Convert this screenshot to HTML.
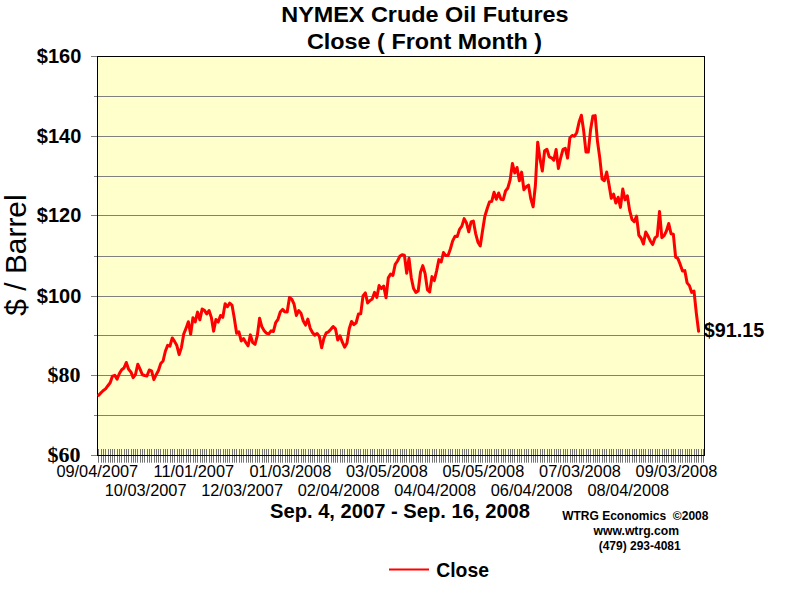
<!DOCTYPE html>
<html><head><meta charset="utf-8"><title>NYMEX Crude Oil Futures</title>
<style>
html,body{margin:0;padding:0;background:#fff;}
body{width:800px;height:600px;overflow:hidden;}
svg{display:block;}
text{fill:#000;}
.ab{font-family:"Liberation Sans",sans-serif;font-weight:bold;}
.ar{font-family:"Liberation Sans",sans-serif;}
.tb{font-family:"Liberation Serif",serif;font-weight:bold;}
</style></head><body>
<svg width="800" height="600" viewBox="0 0 800 600">
<rect x="0" y="0" width="800" height="600" fill="#ffffff"/>
<rect x="97" y="56" width="608" height="400" fill="#ffffcc"/>
<line x1="94" x2="705" y1="96.5" y2="96.5" stroke="#808080"/><line x1="94" x2="705" y1="136.5" y2="136.5" stroke="#808080"/><line x1="94" x2="705" y1="176.5" y2="176.5" stroke="#808080"/><line x1="94" x2="705" y1="215.5" y2="215.5" stroke="#808080"/><line x1="94" x2="705" y1="256.5" y2="256.5" stroke="#808080"/><line x1="94" x2="705" y1="296.5" y2="296.5" stroke="#808080"/><line x1="94" x2="705" y1="335.5" y2="335.5" stroke="#808080"/><line x1="94" x2="705" y1="375.5" y2="375.5" stroke="#808080"/><line x1="94" x2="705" y1="415.5" y2="415.5" stroke="#808080"/>
<line x1="91" x2="97" y1="56.5" y2="56.5" stroke="#808080"/><line x1="91" x2="97" y1="136.5" y2="136.5" stroke="#808080"/><line x1="91" x2="97" y1="215.5" y2="215.5" stroke="#808080"/><line x1="91" x2="97" y1="296.5" y2="296.5" stroke="#808080"/><line x1="91" x2="97" y1="375.5" y2="375.5" stroke="#808080"/><line x1="91" x2="97" y1="455.5" y2="455.5" stroke="#808080"/>
<line x1="98.5" x2="98.5" y1="449" y2="462.7" stroke="#747474"/><line x1="101.5" x2="101.5" y1="449" y2="462.7" stroke="#747474"/><line x1="103.5" x2="103.5" y1="449" y2="462.7" stroke="#747474"/><line x1="105.5" x2="105.5" y1="449" y2="462.7" stroke="#747474"/><line x1="108.5" x2="108.5" y1="449" y2="462.7" stroke="#747474"/><line x1="110.5" x2="110.5" y1="449" y2="462.7" stroke="#747474"/><line x1="112.5" x2="112.5" y1="449" y2="462.7" stroke="#747474"/><line x1="114.5" x2="114.5" y1="449" y2="462.7" stroke="#747474"/><line x1="117.5" x2="117.5" y1="449" y2="462.7" stroke="#747474"/><line x1="119.5" x2="119.5" y1="449" y2="462.7" stroke="#747474"/><line x1="121.5" x2="121.5" y1="449" y2="462.7" stroke="#747474"/><line x1="124.5" x2="124.5" y1="449" y2="462.7" stroke="#747474"/><line x1="126.5" x2="126.5" y1="449" y2="462.7" stroke="#747474"/><line x1="128.5" x2="128.5" y1="449" y2="462.7" stroke="#747474"/><line x1="131.5" x2="131.5" y1="449" y2="462.7" stroke="#747474"/><line x1="133.5" x2="133.5" y1="449" y2="462.7" stroke="#747474"/><line x1="135.5" x2="135.5" y1="449" y2="462.7" stroke="#747474"/><line x1="137.5" x2="137.5" y1="449" y2="462.7" stroke="#747474"/><line x1="140.5" x2="140.5" y1="449" y2="462.7" stroke="#747474"/><line x1="142.5" x2="142.5" y1="449" y2="462.7" stroke="#747474"/><line x1="144.5" x2="144.5" y1="449" y2="462.7" stroke="#747474"/><line x1="147.5" x2="147.5" y1="449" y2="462.7" stroke="#747474"/><line x1="149.5" x2="149.5" y1="449" y2="462.7" stroke="#747474"/><line x1="151.5" x2="151.5" y1="449" y2="462.7" stroke="#747474"/><line x1="154.5" x2="154.5" y1="449" y2="462.7" stroke="#747474"/><line x1="156.5" x2="156.5" y1="449" y2="462.7" stroke="#747474"/><line x1="158.5" x2="158.5" y1="449" y2="462.7" stroke="#747474"/><line x1="160.5" x2="160.5" y1="449" y2="462.7" stroke="#747474"/><line x1="163.5" x2="163.5" y1="449" y2="462.7" stroke="#747474"/><line x1="165.5" x2="165.5" y1="449" y2="462.7" stroke="#747474"/><line x1="167.5" x2="167.5" y1="449" y2="462.7" stroke="#747474"/><line x1="170.5" x2="170.5" y1="449" y2="462.7" stroke="#747474"/><line x1="172.5" x2="172.5" y1="449" y2="462.7" stroke="#747474"/><line x1="174.5" x2="174.5" y1="449" y2="462.7" stroke="#747474"/><line x1="177.5" x2="177.5" y1="449" y2="462.7" stroke="#747474"/><line x1="179.5" x2="179.5" y1="449" y2="462.7" stroke="#747474"/><line x1="181.5" x2="181.5" y1="449" y2="462.7" stroke="#747474"/><line x1="183.5" x2="183.5" y1="449" y2="462.7" stroke="#747474"/><line x1="186.5" x2="186.5" y1="449" y2="462.7" stroke="#747474"/><line x1="188.5" x2="188.5" y1="449" y2="462.7" stroke="#747474"/><line x1="190.5" x2="190.5" y1="449" y2="462.7" stroke="#747474"/><line x1="193.5" x2="193.5" y1="449" y2="462.7" stroke="#747474"/><line x1="195.5" x2="195.5" y1="449" y2="462.7" stroke="#747474"/><line x1="197.5" x2="197.5" y1="449" y2="462.7" stroke="#747474"/><line x1="200.5" x2="200.5" y1="449" y2="462.7" stroke="#747474"/><line x1="202.5" x2="202.5" y1="449" y2="462.7" stroke="#747474"/><line x1="204.5" x2="204.5" y1="449" y2="462.7" stroke="#747474"/><line x1="206.5" x2="206.5" y1="449" y2="462.7" stroke="#747474"/><line x1="209.5" x2="209.5" y1="449" y2="462.7" stroke="#747474"/><line x1="211.5" x2="211.5" y1="449" y2="462.7" stroke="#747474"/><line x1="213.5" x2="213.5" y1="449" y2="462.7" stroke="#747474"/><line x1="216.5" x2="216.5" y1="449" y2="462.7" stroke="#747474"/><line x1="218.5" x2="218.5" y1="449" y2="462.7" stroke="#747474"/><line x1="220.5" x2="220.5" y1="449" y2="462.7" stroke="#747474"/><line x1="223.5" x2="223.5" y1="449" y2="462.7" stroke="#747474"/><line x1="225.5" x2="225.5" y1="449" y2="462.7" stroke="#747474"/><line x1="227.5" x2="227.5" y1="449" y2="462.7" stroke="#747474"/><line x1="229.5" x2="229.5" y1="449" y2="462.7" stroke="#747474"/><line x1="232.5" x2="232.5" y1="449" y2="462.7" stroke="#747474"/><line x1="234.5" x2="234.5" y1="449" y2="462.7" stroke="#747474"/><line x1="236.5" x2="236.5" y1="449" y2="462.7" stroke="#747474"/><line x1="239.5" x2="239.5" y1="449" y2="462.7" stroke="#747474"/><line x1="241.5" x2="241.5" y1="449" y2="462.7" stroke="#747474"/><line x1="243.5" x2="243.5" y1="449" y2="462.7" stroke="#747474"/><line x1="246.5" x2="246.5" y1="449" y2="462.7" stroke="#747474"/><line x1="248.5" x2="248.5" y1="449" y2="462.7" stroke="#747474"/><line x1="250.5" x2="250.5" y1="449" y2="462.7" stroke="#747474"/><line x1="252.5" x2="252.5" y1="449" y2="462.7" stroke="#747474"/><line x1="255.5" x2="255.5" y1="449" y2="462.7" stroke="#747474"/><line x1="257.5" x2="257.5" y1="449" y2="462.7" stroke="#747474"/><line x1="259.5" x2="259.5" y1="449" y2="462.7" stroke="#747474"/><line x1="262.5" x2="262.5" y1="449" y2="462.7" stroke="#747474"/><line x1="264.5" x2="264.5" y1="449" y2="462.7" stroke="#747474"/><line x1="266.5" x2="266.5" y1="449" y2="462.7" stroke="#747474"/><line x1="268.5" x2="268.5" y1="449" y2="462.7" stroke="#747474"/><line x1="271.5" x2="271.5" y1="449" y2="462.7" stroke="#747474"/><line x1="273.5" x2="273.5" y1="449" y2="462.7" stroke="#747474"/><line x1="275.5" x2="275.5" y1="449" y2="462.7" stroke="#747474"/><line x1="278.5" x2="278.5" y1="449" y2="462.7" stroke="#747474"/><line x1="280.5" x2="280.5" y1="449" y2="462.7" stroke="#747474"/><line x1="282.5" x2="282.5" y1="449" y2="462.7" stroke="#747474"/><line x1="285.5" x2="285.5" y1="449" y2="462.7" stroke="#747474"/><line x1="287.5" x2="287.5" y1="449" y2="462.7" stroke="#747474"/><line x1="289.5" x2="289.5" y1="449" y2="462.7" stroke="#747474"/><line x1="291.5" x2="291.5" y1="449" y2="462.7" stroke="#747474"/><line x1="294.5" x2="294.5" y1="449" y2="462.7" stroke="#747474"/><line x1="296.5" x2="296.5" y1="449" y2="462.7" stroke="#747474"/><line x1="298.5" x2="298.5" y1="449" y2="462.7" stroke="#747474"/><line x1="301.5" x2="301.5" y1="449" y2="462.7" stroke="#747474"/><line x1="303.5" x2="303.5" y1="449" y2="462.7" stroke="#747474"/><line x1="305.5" x2="305.5" y1="449" y2="462.7" stroke="#747474"/><line x1="308.5" x2="308.5" y1="449" y2="462.7" stroke="#747474"/><line x1="310.5" x2="310.5" y1="449" y2="462.7" stroke="#747474"/><line x1="312.5" x2="312.5" y1="449" y2="462.7" stroke="#747474"/><line x1="314.5" x2="314.5" y1="449" y2="462.7" stroke="#747474"/><line x1="317.5" x2="317.5" y1="449" y2="462.7" stroke="#747474"/><line x1="319.5" x2="319.5" y1="449" y2="462.7" stroke="#747474"/><line x1="321.5" x2="321.5" y1="449" y2="462.7" stroke="#747474"/><line x1="324.5" x2="324.5" y1="449" y2="462.7" stroke="#747474"/><line x1="326.5" x2="326.5" y1="449" y2="462.7" stroke="#747474"/><line x1="328.5" x2="328.5" y1="449" y2="462.7" stroke="#747474"/><line x1="331.5" x2="331.5" y1="449" y2="462.7" stroke="#747474"/><line x1="333.5" x2="333.5" y1="449" y2="462.7" stroke="#747474"/><line x1="335.5" x2="335.5" y1="449" y2="462.7" stroke="#747474"/><line x1="337.5" x2="337.5" y1="449" y2="462.7" stroke="#747474"/><line x1="340.5" x2="340.5" y1="449" y2="462.7" stroke="#747474"/><line x1="342.5" x2="342.5" y1="449" y2="462.7" stroke="#747474"/><line x1="344.5" x2="344.5" y1="449" y2="462.7" stroke="#747474"/><line x1="347.5" x2="347.5" y1="449" y2="462.7" stroke="#747474"/><line x1="349.5" x2="349.5" y1="449" y2="462.7" stroke="#747474"/><line x1="351.5" x2="351.5" y1="449" y2="462.7" stroke="#747474"/><line x1="354.5" x2="354.5" y1="449" y2="462.7" stroke="#747474"/><line x1="356.5" x2="356.5" y1="449" y2="462.7" stroke="#747474"/><line x1="358.5" x2="358.5" y1="449" y2="462.7" stroke="#747474"/><line x1="360.5" x2="360.5" y1="449" y2="462.7" stroke="#747474"/><line x1="363.5" x2="363.5" y1="449" y2="462.7" stroke="#747474"/><line x1="365.5" x2="365.5" y1="449" y2="462.7" stroke="#747474"/><line x1="367.5" x2="367.5" y1="449" y2="462.7" stroke="#747474"/><line x1="370.5" x2="370.5" y1="449" y2="462.7" stroke="#747474"/><line x1="372.5" x2="372.5" y1="449" y2="462.7" stroke="#747474"/><line x1="374.5" x2="374.5" y1="449" y2="462.7" stroke="#747474"/><line x1="377.5" x2="377.5" y1="449" y2="462.7" stroke="#747474"/><line x1="379.5" x2="379.5" y1="449" y2="462.7" stroke="#747474"/><line x1="381.5" x2="381.5" y1="449" y2="462.7" stroke="#747474"/><line x1="383.5" x2="383.5" y1="449" y2="462.7" stroke="#747474"/><line x1="386.5" x2="386.5" y1="449" y2="462.7" stroke="#747474"/><line x1="388.5" x2="388.5" y1="449" y2="462.7" stroke="#747474"/><line x1="390.5" x2="390.5" y1="449" y2="462.7" stroke="#747474"/><line x1="393.5" x2="393.5" y1="449" y2="462.7" stroke="#747474"/><line x1="395.5" x2="395.5" y1="449" y2="462.7" stroke="#747474"/><line x1="397.5" x2="397.5" y1="449" y2="462.7" stroke="#747474"/><line x1="400.5" x2="400.5" y1="449" y2="462.7" stroke="#747474"/><line x1="402.5" x2="402.5" y1="449" y2="462.7" stroke="#747474"/><line x1="404.5" x2="404.5" y1="449" y2="462.7" stroke="#747474"/><line x1="406.5" x2="406.5" y1="449" y2="462.7" stroke="#747474"/><line x1="409.5" x2="409.5" y1="449" y2="462.7" stroke="#747474"/><line x1="411.5" x2="411.5" y1="449" y2="462.7" stroke="#747474"/><line x1="413.5" x2="413.5" y1="449" y2="462.7" stroke="#747474"/><line x1="416.5" x2="416.5" y1="449" y2="462.7" stroke="#747474"/><line x1="418.5" x2="418.5" y1="449" y2="462.7" stroke="#747474"/><line x1="420.5" x2="420.5" y1="449" y2="462.7" stroke="#747474"/><line x1="422.5" x2="422.5" y1="449" y2="462.7" stroke="#747474"/><line x1="425.5" x2="425.5" y1="449" y2="462.7" stroke="#747474"/><line x1="427.5" x2="427.5" y1="449" y2="462.7" stroke="#747474"/><line x1="429.5" x2="429.5" y1="449" y2="462.7" stroke="#747474"/><line x1="432.5" x2="432.5" y1="449" y2="462.7" stroke="#747474"/><line x1="434.5" x2="434.5" y1="449" y2="462.7" stroke="#747474"/><line x1="436.5" x2="436.5" y1="449" y2="462.7" stroke="#747474"/><line x1="439.5" x2="439.5" y1="449" y2="462.7" stroke="#747474"/><line x1="441.5" x2="441.5" y1="449" y2="462.7" stroke="#747474"/><line x1="443.5" x2="443.5" y1="449" y2="462.7" stroke="#747474"/><line x1="445.5" x2="445.5" y1="449" y2="462.7" stroke="#747474"/><line x1="448.5" x2="448.5" y1="449" y2="462.7" stroke="#747474"/><line x1="450.5" x2="450.5" y1="449" y2="462.7" stroke="#747474"/><line x1="452.5" x2="452.5" y1="449" y2="462.7" stroke="#747474"/><line x1="455.5" x2="455.5" y1="449" y2="462.7" stroke="#747474"/><line x1="457.5" x2="457.5" y1="449" y2="462.7" stroke="#747474"/><line x1="459.5" x2="459.5" y1="449" y2="462.7" stroke="#747474"/><line x1="462.5" x2="462.5" y1="449" y2="462.7" stroke="#747474"/><line x1="464.5" x2="464.5" y1="449" y2="462.7" stroke="#747474"/><line x1="466.5" x2="466.5" y1="449" y2="462.7" stroke="#747474"/><line x1="468.5" x2="468.5" y1="449" y2="462.7" stroke="#747474"/><line x1="471.5" x2="471.5" y1="449" y2="462.7" stroke="#747474"/><line x1="473.5" x2="473.5" y1="449" y2="462.7" stroke="#747474"/><line x1="475.5" x2="475.5" y1="449" y2="462.7" stroke="#747474"/><line x1="478.5" x2="478.5" y1="449" y2="462.7" stroke="#747474"/><line x1="480.5" x2="480.5" y1="449" y2="462.7" stroke="#747474"/><line x1="482.5" x2="482.5" y1="449" y2="462.7" stroke="#747474"/><line x1="485.5" x2="485.5" y1="449" y2="462.7" stroke="#747474"/><line x1="487.5" x2="487.5" y1="449" y2="462.7" stroke="#747474"/><line x1="489.5" x2="489.5" y1="449" y2="462.7" stroke="#747474"/><line x1="491.5" x2="491.5" y1="449" y2="462.7" stroke="#747474"/><line x1="494.5" x2="494.5" y1="449" y2="462.7" stroke="#747474"/><line x1="496.5" x2="496.5" y1="449" y2="462.7" stroke="#747474"/><line x1="498.5" x2="498.5" y1="449" y2="462.7" stroke="#747474"/><line x1="501.5" x2="501.5" y1="449" y2="462.7" stroke="#747474"/><line x1="503.5" x2="503.5" y1="449" y2="462.7" stroke="#747474"/><line x1="505.5" x2="505.5" y1="449" y2="462.7" stroke="#747474"/><line x1="508.5" x2="508.5" y1="449" y2="462.7" stroke="#747474"/><line x1="510.5" x2="510.5" y1="449" y2="462.7" stroke="#747474"/><line x1="512.5" x2="512.5" y1="449" y2="462.7" stroke="#747474"/><line x1="514.5" x2="514.5" y1="449" y2="462.7" stroke="#747474"/><line x1="517.5" x2="517.5" y1="449" y2="462.7" stroke="#747474"/><line x1="519.5" x2="519.5" y1="449" y2="462.7" stroke="#747474"/><line x1="521.5" x2="521.5" y1="449" y2="462.7" stroke="#747474"/><line x1="524.5" x2="524.5" y1="449" y2="462.7" stroke="#747474"/><line x1="526.5" x2="526.5" y1="449" y2="462.7" stroke="#747474"/><line x1="528.5" x2="528.5" y1="449" y2="462.7" stroke="#747474"/><line x1="531.5" x2="531.5" y1="449" y2="462.7" stroke="#747474"/><line x1="533.5" x2="533.5" y1="449" y2="462.7" stroke="#747474"/><line x1="535.5" x2="535.5" y1="449" y2="462.7" stroke="#747474"/><line x1="537.5" x2="537.5" y1="449" y2="462.7" stroke="#747474"/><line x1="540.5" x2="540.5" y1="449" y2="462.7" stroke="#747474"/><line x1="542.5" x2="542.5" y1="449" y2="462.7" stroke="#747474"/><line x1="544.5" x2="544.5" y1="449" y2="462.7" stroke="#747474"/><line x1="547.5" x2="547.5" y1="449" y2="462.7" stroke="#747474"/><line x1="549.5" x2="549.5" y1="449" y2="462.7" stroke="#747474"/><line x1="551.5" x2="551.5" y1="449" y2="462.7" stroke="#747474"/><line x1="554.5" x2="554.5" y1="449" y2="462.7" stroke="#747474"/><line x1="556.5" x2="556.5" y1="449" y2="462.7" stroke="#747474"/><line x1="558.5" x2="558.5" y1="449" y2="462.7" stroke="#747474"/><line x1="560.5" x2="560.5" y1="449" y2="462.7" stroke="#747474"/><line x1="563.5" x2="563.5" y1="449" y2="462.7" stroke="#747474"/><line x1="565.5" x2="565.5" y1="449" y2="462.7" stroke="#747474"/><line x1="567.5" x2="567.5" y1="449" y2="462.7" stroke="#747474"/><line x1="570.5" x2="570.5" y1="449" y2="462.7" stroke="#747474"/><line x1="572.5" x2="572.5" y1="449" y2="462.7" stroke="#747474"/><line x1="574.5" x2="574.5" y1="449" y2="462.7" stroke="#747474"/><line x1="576.5" x2="576.5" y1="449" y2="462.7" stroke="#747474"/><line x1="579.5" x2="579.5" y1="449" y2="462.7" stroke="#747474"/><line x1="581.5" x2="581.5" y1="449" y2="462.7" stroke="#747474"/><line x1="583.5" x2="583.5" y1="449" y2="462.7" stroke="#747474"/><line x1="586.5" x2="586.5" y1="449" y2="462.7" stroke="#747474"/><line x1="588.5" x2="588.5" y1="449" y2="462.7" stroke="#747474"/><line x1="590.5" x2="590.5" y1="449" y2="462.7" stroke="#747474"/><line x1="593.5" x2="593.5" y1="449" y2="462.7" stroke="#747474"/><line x1="595.5" x2="595.5" y1="449" y2="462.7" stroke="#747474"/><line x1="597.5" x2="597.5" y1="449" y2="462.7" stroke="#747474"/><line x1="599.5" x2="599.5" y1="449" y2="462.7" stroke="#747474"/><line x1="602.5" x2="602.5" y1="449" y2="462.7" stroke="#747474"/><line x1="604.5" x2="604.5" y1="449" y2="462.7" stroke="#747474"/><line x1="606.5" x2="606.5" y1="449" y2="462.7" stroke="#747474"/><line x1="609.5" x2="609.5" y1="449" y2="462.7" stroke="#747474"/><line x1="611.5" x2="611.5" y1="449" y2="462.7" stroke="#747474"/><line x1="613.5" x2="613.5" y1="449" y2="462.7" stroke="#747474"/><line x1="616.5" x2="616.5" y1="449" y2="462.7" stroke="#747474"/><line x1="618.5" x2="618.5" y1="449" y2="462.7" stroke="#747474"/><line x1="620.5" x2="620.5" y1="449" y2="462.7" stroke="#747474"/><line x1="622.5" x2="622.5" y1="449" y2="462.7" stroke="#747474"/><line x1="625.5" x2="625.5" y1="449" y2="462.7" stroke="#747474"/><line x1="627.5" x2="627.5" y1="449" y2="462.7" stroke="#747474"/><line x1="629.5" x2="629.5" y1="449" y2="462.7" stroke="#747474"/><line x1="632.5" x2="632.5" y1="449" y2="462.7" stroke="#747474"/><line x1="634.5" x2="634.5" y1="449" y2="462.7" stroke="#747474"/><line x1="636.5" x2="636.5" y1="449" y2="462.7" stroke="#747474"/><line x1="639.5" x2="639.5" y1="449" y2="462.7" stroke="#747474"/><line x1="641.5" x2="641.5" y1="449" y2="462.7" stroke="#747474"/><line x1="643.5" x2="643.5" y1="449" y2="462.7" stroke="#747474"/><line x1="645.5" x2="645.5" y1="449" y2="462.7" stroke="#747474"/><line x1="648.5" x2="648.5" y1="449" y2="462.7" stroke="#747474"/><line x1="650.5" x2="650.5" y1="449" y2="462.7" stroke="#747474"/><line x1="652.5" x2="652.5" y1="449" y2="462.7" stroke="#747474"/><line x1="655.5" x2="655.5" y1="449" y2="462.7" stroke="#747474"/><line x1="657.5" x2="657.5" y1="449" y2="462.7" stroke="#747474"/><line x1="659.5" x2="659.5" y1="449" y2="462.7" stroke="#747474"/><line x1="662.5" x2="662.5" y1="449" y2="462.7" stroke="#747474"/><line x1="664.5" x2="664.5" y1="449" y2="462.7" stroke="#747474"/><line x1="666.5" x2="666.5" y1="449" y2="462.7" stroke="#747474"/><line x1="668.5" x2="668.5" y1="449" y2="462.7" stroke="#747474"/><line x1="671.5" x2="671.5" y1="449" y2="462.7" stroke="#747474"/><line x1="673.5" x2="673.5" y1="449" y2="462.7" stroke="#747474"/><line x1="675.5" x2="675.5" y1="449" y2="462.7" stroke="#747474"/><line x1="678.5" x2="678.5" y1="449" y2="462.7" stroke="#747474"/><line x1="680.5" x2="680.5" y1="449" y2="462.7" stroke="#747474"/><line x1="682.5" x2="682.5" y1="449" y2="462.7" stroke="#747474"/><line x1="685.5" x2="685.5" y1="449" y2="462.7" stroke="#747474"/><line x1="687.5" x2="687.5" y1="449" y2="462.7" stroke="#747474"/><line x1="689.5" x2="689.5" y1="449" y2="462.7" stroke="#747474"/><line x1="691.5" x2="691.5" y1="449" y2="462.7" stroke="#747474"/><line x1="694.5" x2="694.5" y1="449" y2="462.7" stroke="#747474"/><line x1="696.5" x2="696.5" y1="449" y2="462.7" stroke="#747474"/><line x1="698.5" x2="698.5" y1="449" y2="462.7" stroke="#747474"/><line x1="701.5" x2="701.5" y1="449" y2="462.7" stroke="#747474"/><line x1="703.5" x2="703.5" y1="449" y2="462.7" stroke="#747474"/>
<line x1="97.5" x2="97.5" y1="56" y2="456" stroke="#000"/>
<line x1="704.5" x2="704.5" y1="56" y2="456" stroke="#000"/>
<line x1="97" x2="705" y1="56.5" y2="56.5" stroke="#000"/>
<line x1="97" x2="705" y1="455.5" y2="455.5" stroke="#000"/>
<line x1="91" x2="97" y1="56.5" y2="56.5" stroke="#808080"/>
<line x1="91" x2="97" y1="455.5" y2="455.5" stroke="#808080"/>
<polyline points="98.70,395.33 101.00,392.74 103.30,390.46 105.60,388.87 107.89,385.71 110.19,382.76 112.49,376.06 114.79,375.34 117.09,379.29 119.39,373.43 121.69,369.68 123.98,368.00 126.28,362.45 128.58,369.24 130.88,371.91 133.18,377.58 135.48,374.50 137.77,364.21 140.07,369.08 142.37,374.74 144.67,375.50 146.97,375.94 149.27,369.95 151.57,370.83 153.86,379.61 156.16,374.66 158.46,370.51 160.76,363.41 163.06,360.98 165.36,351.24 167.66,345.34 169.95,346.17 172.25,337.91 174.55,341.39 176.85,345.54 179.15,354.67 181.45,347.37 183.74,333.96 186.04,328.38 188.34,321.72 190.64,334.28 192.94,317.73 195.24,321.87 197.54,312.14 199.83,319.92 202.13,309.07 204.43,310.38 206.73,314.01 209.03,310.58 211.33,317.37 213.62,331.13 215.92,319.48 218.22,322.11 220.52,315.45 222.82,317.29 225.12,303.76 227.42,306.71 229.71,303.16 232.01,305.08 234.31,318.16 236.61,333.33 238.91,331.77 241.21,340.95 243.51,338.55 245.80,342.50 248.10,345.81 250.40,334.88 252.70,342.66 255.00,344.34 257.30,335.72 259.60,318.28 261.89,326.82 264.19,330.73 266.49,333.29 268.79,333.84 271.09,330.85 273.39,331.57 275.68,322.59 277.98,319.32 280.28,311.98 282.58,309.39 284.88,311.86 287.18,311.94 289.48,297.42 291.77,299.17 294.07,304.24 296.37,315.49 298.67,310.54 300.97,313.18 303.27,321.00 305.56,325.07 307.86,319.04 310.16,328.22 312.46,332.45 314.76,335.28 317.06,333.53 319.36,336.40 321.65,347.81 323.95,338.15 326.25,332.97 328.55,331.85 330.85,329.26 333.15,326.50 335.45,328.82 337.74,339.95 340.04,335.72 342.34,342.14 344.64,347.21 346.94,343.34 349.24,328.74 351.54,321.48 353.83,324.71 356.13,322.75 358.43,314.01 360.73,313.86 363.03,295.86 365.33,292.95 367.62,302.96 369.92,300.65 372.22,298.97 374.52,292.39 376.82,297.34 379.12,285.57 381.42,288.56 383.71,286.12 386.01,297.82 388.31,277.87 390.61,274.07 392.91,275.35 395.21,264.38 397.50,260.99 399.80,256.32 402.10,254.68 404.40,255.16 406.70,273.24 409.00,258.31 411.30,278.02 413.59,288.56 415.89,292.47 418.19,291.03 420.49,272.36 422.79,265.66 425.09,273.48 427.39,289.60 429.68,291.99 431.98,276.63 434.28,280.62 436.58,271.04 438.88,259.63 441.18,261.99 443.48,252.53 445.77,255.56 448.07,255.44 450.37,248.98 452.67,240.88 454.97,236.33 457.27,236.61 459.56,229.31 461.86,226.15 464.16,218.61 466.46,222.88 468.76,231.82 471.06,222.01 473.36,221.09 475.65,233.54 477.95,242.19 480.25,245.95 482.55,230.78 484.85,216.22 487.15,208.76 489.45,202.02 491.74,201.38 494.04,192.32 496.34,199.22 498.64,192.96 500.94,199.26 503.24,199.66 505.53,191.00 507.83,187.97 510.13,179.91 512.43,163.55 514.73,172.97 517.03,167.46 519.33,180.79 521.62,172.09 523.92,189.69 526.22,186.77 528.52,185.14 530.82,198.90 533.12,206.92 535.42,185.02 537.71,142.13 540.01,158.84 542.31,170.97 544.61,150.74 546.91,149.31 549.21,156.81 551.50,157.81 553.80,160.20 556.10,149.55 558.40,168.50 560.70,157.77 563.00,149.31 565.30,148.27 567.59,158.05 569.89,137.74 572.19,135.46 574.49,136.30 576.79,132.43 579.09,122.06 581.39,115.19 583.68,130.83 585.98,152.10 588.28,152.06 590.58,129.72 592.88,116.03 595.18,115.63 597.47,141.33 599.77,157.85 602.07,179.03 604.37,180.67 606.67,172.05 608.97,184.38 611.27,198.38 613.56,194.19 615.86,203.09 618.16,197.23 620.46,207.36 622.76,189.09 625.06,199.82 627.36,195.75 629.65,210.47 631.95,219.41 634.25,221.77 636.55,216.02 638.85,235.25 641.15,238.24 643.44,243.99 645.74,232.06 648.04,236.01 650.34,240.96 652.64,244.55 654.94,237.93 657.24,236.13 659.53,211.39 661.83,237.69 664.13,235.61 666.43,230.98 668.73,223.48 671.03,233.70 673.33,234.21 675.62,257.16 677.92,258.59 680.22,264.42 682.52,271.04 684.82,270.60 687.12,282.89 689.41,285.61 691.71,292.43 694.01,291.19 696.31,313.02 698.61,331.21" fill="none" stroke="#ff0000" stroke-width="3.0" stroke-linejoin="round" stroke-linecap="round"/>
<text transform="translate(424.9,21.5) scale(1.055,1)" text-anchor="middle" class="ab" font-size="22.2">NYMEX Crude Oil Futures</text>
<text transform="translate(424.5,49.2) scale(1.055,1)" text-anchor="middle" class="ab" font-size="22.2">Close ( Front Month )</text>
<text x="81.3" y="63.0" text-anchor="end" class="ab" font-size="20">$160</text><text x="81.3" y="143.0" text-anchor="end" class="ab" font-size="20">$140</text><text x="81.3" y="222.0" text-anchor="end" class="ab" font-size="20">$120</text><text x="81.3" y="303.0" text-anchor="end" class="ab" font-size="20">$100</text><text x="80.6" y="381.5" text-anchor="end" class="tb" font-size="22">$80</text><text x="80.6" y="461.5" text-anchor="end" class="tb" font-size="22">$60</text>
<text x="97.3" y="476.5" text-anchor="middle" class="ar" font-size="16.35">09/04/2007</text><text x="145.6" y="495.5" text-anchor="middle" class="ar" font-size="16.35">10/03/2007</text><text x="193.8" y="476.5" text-anchor="middle" class="ar" font-size="16.35">11/01/2007</text><text x="242.1" y="495.5" text-anchor="middle" class="ar" font-size="16.35">12/03/2007</text><text x="290.4" y="476.5" text-anchor="middle" class="ar" font-size="16.35">01/03/2008</text><text x="338.6" y="495.5" text-anchor="middle" class="ar" font-size="16.35">02/04/2008</text><text x="386.9" y="476.5" text-anchor="middle" class="ar" font-size="16.35">03/05/2008</text><text x="435.2" y="495.5" text-anchor="middle" class="ar" font-size="16.35">04/04/2008</text><text x="483.4" y="476.5" text-anchor="middle" class="ar" font-size="16.35">05/05/2008</text><text x="531.7" y="495.5" text-anchor="middle" class="ar" font-size="16.35">06/04/2008</text><text x="580.0" y="476.5" text-anchor="middle" class="ar" font-size="16.35">07/03/2008</text><text x="628.3" y="495.5" text-anchor="middle" class="ar" font-size="16.35">08/04/2008</text><text x="676.5" y="476.5" text-anchor="middle" class="ar" font-size="16.35">09/03/2008</text>
<text transform="translate(26,255) rotate(-90)" text-anchor="middle" class="ar" font-size="29.9">$ / Barrel</text>
<text transform="translate(400,518) scale(1.03,1)" text-anchor="middle" class="ab" font-size="19.6">Sep. 4, 2007 - Sep. 16, 2008</text>
<text x="703.8" y="337.3" class="ab" font-size="19.8">$91.15</text>
<text x="635.3" y="520" text-anchor="middle" class="ab" font-size="12">WTRG Economics&#160;&#160;©2008</text>
<text x="636.3" y="535" text-anchor="middle" class="ab" font-size="12.2">www.wtrg.com</text>
<text x="639.7" y="549.5" text-anchor="middle" class="ab" font-size="12">(479) 293-4081</text>
<line x1="389" x2="429" y1="569.6" y2="569.6" stroke="#ff0000" stroke-width="2"/>
<text transform="translate(436.2,576.5) scale(0.96,1)" class="ab" font-size="20.2">Close</text>
</svg>
</body></html>
